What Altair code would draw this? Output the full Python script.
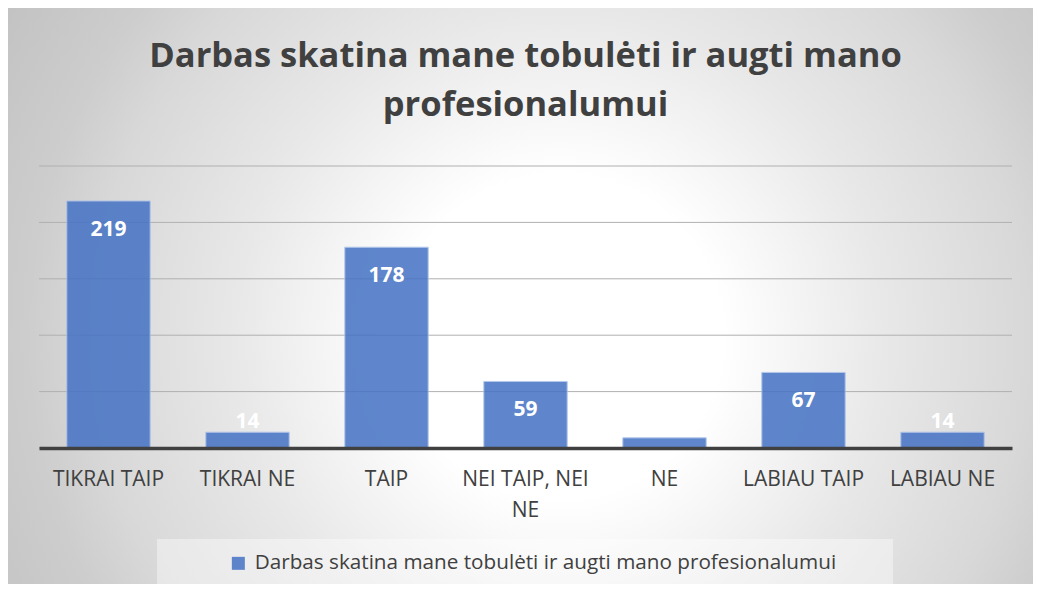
import altair as alt
import pandas as pd

# ---- data ----
categories = ["TIKRAI TAIP", "TIKRAI NE", "TAIP", "NEI TAIP, NEI NE", "NE", "LABIAU TAIP", "LABIAU NE"]
values = [219, 14, 178, 59, 9, 67, 14]
series_name = "Darbas skatina mane tobulėti ir augti mano profesionalumui"
title_lines = ["Darbas skatina mane tobulėti ir augti mano", "profesionalumui"]
grid_values = [0, 50, 100, 150, 200, 250]

df = pd.DataFrame({"category": categories, "value": values, "series": [series_name] * len(values)})
grid_df = pd.DataFrame({"value": grid_values})
bg_df = pd.DataFrame({"k": [0]})

# ---- layout ----
W, H = 973, 282
PAD_L, PAD_T, PAD_R, PAD_B = 31, 158, 21, 136
FONT = "Open Sans"
TXT = "#404040"
BLUE = "#4472C4"

bg = alt.Chart(bg_df).mark_rect(
    fill=alt.RadialGradient(
        gradient="radial",
        x1=0.5385, y1=0.54, r1=0,
        x2=0.5385, y2=0.54, r2=0.634,
        stops=[
            alt.GradientStop(offset=0, color="#ffffff"),
            alt.GradientStop(offset=0.25, color="#ffffff"),
            alt.GradientStop(offset=0.5, color="#e8e8e8"),
            alt.GradientStop(offset=0.72, color="#d8d8d8"),
            alt.GradientStop(offset=0.82, color="#cdcdcd"),
            alt.GradientStop(offset=1.0, color="#c2c2c2"),
        ],
    ),
).encode(
    x=alt.value(-PAD_L), x2=alt.value(W + PAD_R),
    y=alt.value(-PAD_T), y2=alt.value(H + PAD_B),
)

legend_box = alt.Chart(bg_df).mark_rect(fill="#ffffff", opacity=0.4).encode(
    x=alt.value(118), x2=alt.value(854),
    y=alt.value(373), y2=alt.value(418),
)

yscale = alt.Scale(domain=[0, 250], nice=False)

grid = alt.Chart(grid_df).mark_rule(color="#b0b0b0", strokeWidth=1).encode(
    y=alt.Y("value:Q", scale=yscale, axis=None),
    x=alt.value(0), x2=alt.value(W),
)

xaxis = alt.Axis(
    title=None, labelAngle=0, labelFont=FONT, labelFontSize=21, labelColor=TXT,
    ticks=False, domainColor=TXT, domainWidth=3.5, labelPadding=20,
    labelLineHeight=31, labelOverlap=False, labelLimit=200, zindex=2,
    labelExpr="datum.label == 'NEI TAIP, NEI NE' ? ['NEI TAIP, NEI', 'NE'] : datum.label",
)
xscale = alt.Scale(paddingInner=0.4, paddingOuter=0.2)

bars = alt.Chart(df).mark_bar(opacity=0.85, stroke="#a9c0e8", strokeWidth=1).encode(
    x=alt.X("category:N", sort=categories, scale=xscale, axis=xaxis),
    y=alt.Y("value:Q", scale=yscale, axis=None),
    color=alt.Color(
        "series:N", scale=alt.Scale(range=[BLUE]),
        legend=alt.Legend(
            title=None, orient="none", legendX=189, legendY=387, padding=0,
            symbolType="square", symbolSize=169, symbolOpacity=0.85, symbolStrokeWidth=0,
            labelFont=FONT, labelFontSize=20.7, labelColor=TXT, labelLimit=900, labelOffset=6,
        ),
    ),
)

base_txt = alt.Chart(df).encode(
    x=alt.X("category:N", sort=categories, scale=xscale, axis=xaxis),
    y=alt.Y("value:Q", scale=yscale, axis=None),
    text="value:Q",
)
labels_in = base_txt.transform_filter("datum.value >= 30").mark_text(
    baseline="top", dy=18, font=FONT, fontSize=21, fontWeight="bold", color="#ffffff"
)
labels_out = base_txt.transform_filter("datum.value < 30").mark_text(
    baseline="alphabetic", dy=-4, font=FONT, fontSize=21, fontWeight="bold", color="#ffffff"
)

chart = alt.layer(bg, legend_box, grid, bars, labels_in, labels_out).properties(
    width=W, height=H,
    padding={"left": PAD_L, "top": PAD_T, "right": PAD_R, "bottom": PAD_B},
    autosize=alt.AutoSizeParams(type="none"),
    title=alt.TitleParams(
        text=title_lines, font=FONT, fontSize=34.5, fontWeight="bold", color=TXT,
        lineHeight=49, anchor="middle", offset=-115,
    ),
).configure_view(stroke=None).configure(background="#ffffff")

chart.save("out.html", embed_options={"renderer": "svg", "actions": False})
